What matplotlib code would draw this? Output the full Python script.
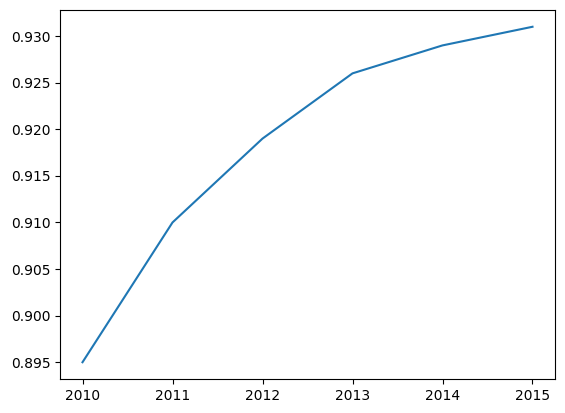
import matplotlib
matplotlib.use("Agg")
import matplotlib.pyplot as plt

years = [2010, 2011, 2012, 2013, 2014, 2015]
values = [0.895, 0.910, 0.919, 0.926, 0.929, 0.931]

fig, ax = plt.subplots(figsize=(5.65, 4.13), dpi=100)
ax.plot(years, values, color="#1f77b4")
ax.yaxis.set_major_formatter(matplotlib.ticker.FormatStrFormatter("%.3f"))
fig.subplots_adjust(left=0.1062, right=0.9823, top=0.9758, bottom=0.0823)
fig.savefig("out.png", dpi=100)
